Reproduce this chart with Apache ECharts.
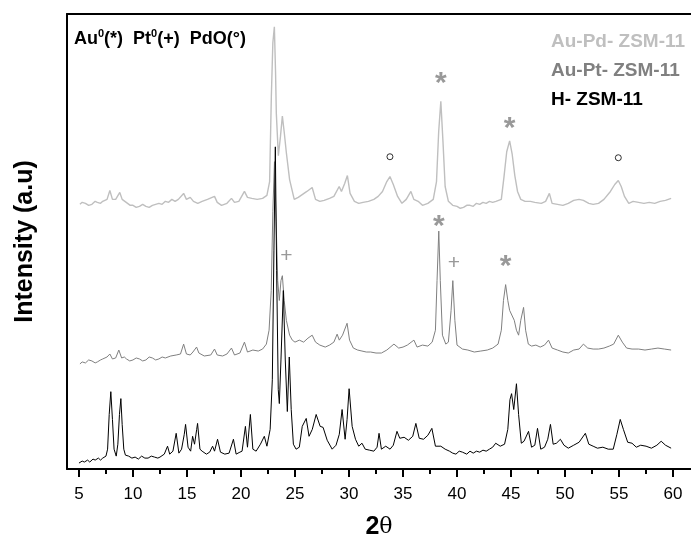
<!DOCTYPE html>
<html>
<head>
<meta charset="utf-8">
<script src="https://cdn.jsdelivr.net/npm/echarts@6/dist/echarts.min.js"></script>
<style>
html,body{margin:0;padding:0;background:#fff;}
#chart{width:691px;height:545px;}
</style>
</head>
<body>
<div id="chart"></div>
<script>
// ---- data (2θ, intensity in arbitrary units, offset traces) ----
var seriesNames = ['Au-Pd- ZSM-11', 'Au-Pt- ZSM-11', 'H- ZSM-11'];
var majorTicks = [5, 10, 15, 20, 25, 30, 35, 40, 45, 50, 55, 60];
var minorTicks = [7.5, 12.5, 17.5, 22.5, 27.5, 32.5, 37.5, 42.5, 47.5, 52.5, 57.5];

var hzsm = [[5.0,6],[5.3,8],[5.5,7],[5.8,9],[6.0,7],[6.3,10],[6.5,9],[6.8,11],[7.0,9],[7.2,11],[7.5,13],[7.65,20],[7.8,55],[7.95,78],[8.1,50],[8.25,20],[8.45,13],[8.6,25],[8.75,55],[8.88,71],[9.0,45],[9.15,20],[9.3,14],[9.6,13],[9.9,11],[10.2,12],[10.5,10],[10.8,13],[11.1,11],[11.4,11],[11.7,13],[12.0,12],[12.3,11],[12.5,12],[12.9,15],[13.2,23],[13.4,15],[13.7,18],[14.0,36],[14.25,16],[14.5,20],[14.75,35],[14.87,45],[15.1,22],[15.34,18],[15.52,33],[15.7,25],[15.9,40],[15.98,46],[16.2,20],[16.4,18],[16.8,15],[17.1,17],[17.37,23],[17.55,18],[17.83,30],[18.1,17],[18.5,15],[18.9,16],[19.3,30],[19.55,15],[19.9,17],[20.1,18],[20.41,43],[20.6,22],[20.87,55],[21.1,20],[21.4,18],[21.8,25],[22.16,33],[22.4,23],[22.7,40],[22.9,90],[23.05,220],[23.18,325],[23.3,200],[23.45,80],[23.55,66],[23.7,110],[23.92,180],[24.1,110],[24.29,58],[24.47,113],[24.65,60],[24.85,25],[25.1,20],[25.4,22],[25.67,43],[26.04,51],[26.3,33],[26.6,40],[26.96,55],[27.33,43],[27.6,42],[27.98,29],[28.44,20],[28.8,24],[29.1,35],[29.36,60],[29.64,30],[29.82,50],[30.01,81],[30.29,43],[30.6,30],[30.9,23],[31.2,26],[31.5,20],[31.9,19],[32.3,18],[32.6,22],[32.78,36],[33.0,20],[33.4,23],[33.8,20],[34.1,24],[34.44,38],[34.7,31],[35.1,32],[35.5,29],[35.9,33],[36.19,46],[36.5,31],[36.9,30],[37.3,34],[37.67,41],[38.0,23],[38.5,23],[38.9,20],[39.3,18],[39.6,16],[39.9,15],[40.2,18],[40.5,17],[40.9,15],[41.2,18],[41.5,16],[41.8,18],[42.1,17],[42.4,19],[42.7,18],[43.0,20],[43.3,22],[43.58,26],[44.0,23],[44.4,25],[44.7,40],[44.9,70],[45.05,76],[45.25,60],[45.5,86],[45.7,55],[45.95,26],[46.2,28],[46.62,38],[46.9,22],[47.2,24],[47.45,41],[47.75,20],[48.1,22],[48.4,30],[48.65,45],[48.9,25],[49.2,26],[49.57,30],[49.9,24],[50.3,21],[50.8,24],[51.3,27],[51.88,36],[52.2,25],[52.6,23],[53.0,21],[53.5,22],[54.0,20],[54.46,20],[54.8,35],[55.11,50],[55.4,40],[55.8,27],[56.2,26],[56.6,22],[57.0,24],[57.5,23],[58.0,21],[58.5,24],[58.9,28],[59.3,24],[59.82,21]];

var aupt = [[5.09,106],[5.3,108],[5.6,107],[5.9,110],[6.2,109],[6.5,107],[6.7,108],[7.0,110],[7.2,111],[7.6,113],[7.86,116],[8.1,111],[8.4,112],[8.69,120],[8.95,112],[9.2,113],[9.4,111],[9.7,109],[10.0,110],[10.3,112],[10.6,111],[10.9,109],[11.2,110],[11.5,113],[11.8,112],[12.1,110],[12.4,111],[12.7,113],[13.0,112],[13.5,114],[14.0,115],[14.4,116],[14.69,126],[14.95,116],[15.3,115],[15.55,118],[15.89,123],[16.1,117],[16.6,114],[17.2,115],[17.55,121],[17.8,115],[18.3,114],[18.7,116],[19.12,122],[19.4,115],[19.9,117],[20.32,128],[20.6,118],[21.1,120],[21.6,119],[22.0,121],[22.35,126],[22.6,140],[22.8,180],[22.95,260],[23.1,310],[23.25,250],[23.4,190],[23.55,170],[23.7,190],[23.83,195],[24.0,170],[24.2,150],[24.5,135],[24.75,130],[25.0,128],[25.4,130],[25.8,128],[26.2,132],[26.59,135],[26.9,128],[27.3,125],[27.8,123],[28.2,125],[28.6,128],[28.9,136],[29.1,130],[29.4,135],[29.82,147],[30.05,130],[30.4,122],[30.8,120],[31.2,119],[31.6,118],[32.0,118],[32.5,117],[33.0,117],[33.5,120],[34.16,126],[34.6,122],[35.0,123],[35.4,125],[36.01,130],[36.3,123],[36.8,125],[37.3,124],[37.7,128],[38.0,140],[38.15,190],[38.31,240],[38.45,190],[38.65,135],[38.96,126],[39.2,128],[39.45,160],[39.61,190],[39.8,150],[40.0,125],[40.5,121],[41.0,120],[41.6,118],[42.2,119],[42.8,120],[43.3,122],[43.8,126],[44.1,140],[44.3,170],[44.5,186],[44.7,170],[44.87,160],[45.05,158],[45.3,150],[45.5,140],[45.7,135],[45.9,150],[46.16,163],[46.35,140],[46.6,126],[46.9,124],[47.3,125],[47.7,123],[48.1,125],[48.47,130],[48.8,122],[49.3,120],[49.8,118],[50.3,117],[50.8,120],[51.3,121],[51.7,126],[52.1,122],[52.6,121],[53.1,121],[53.6,122],[54.1,124],[54.5,126],[54.93,135],[55.3,128],[55.7,122],[56.2,121],[56.8,121],[57.4,120],[58.0,121],[58.6,122],[59.2,121],[59.82,120]];

var aupd = [[5.09,267],[5.3,269],[5.6,268],[5.9,266],[6.2,267],[6.5,270],[6.7,269],[7.0,268],[7.2,270],[7.6,272],[7.86,281],[8.1,272],[8.4,272],[8.78,279],[9.0,272],[9.25,270],[9.5,268],[9.75,266],[10.0,266],[10.3,264],[10.6,265],[10.9,267],[11.2,265],[11.5,264],[11.8,266],[12.1,267],[12.4,268],[12.7,267],[13.0,270],[13.3,269],[13.6,272],[13.9,270],[14.2,272],[14.69,278],[14.95,272],[15.3,274],[15.6,270],[16.0,268],[16.4,270],[16.9,272],[17.55,275],[17.8,269],[18.2,266],[18.7,268],[19.12,273],[19.4,269],[19.8,270],[20.32,280],[20.6,274],[21.0,273],[21.5,272],[22.0,273],[22.4,276],[22.65,290],[22.81,376],[22.95,430],[23.09,446],[23.2,400],[23.27,359],[23.46,316],[23.65,335],[23.83,356],[24.0,340],[24.2,319],[24.5,292],[24.93,272],[25.3,274],[25.7,277],[26.1,280],[26.59,284],[26.9,272],[27.3,270],[27.7,271],[28.2,273],[28.6,275],[29.09,285],[29.3,280],[29.6,288],[29.85,296],[30.1,278],[30.5,270],[30.9,268],[31.3,269],[31.8,270],[32.3,272],[32.7,275],[33.1,280],[33.5,290],[33.79,295],[34.1,287],[34.5,275],[34.9,268],[35.3,272],[35.73,280],[36.0,272],[36.4,270],[36.8,266],[37.3,268],[37.8,272],[38.1,290],[38.3,340],[38.5,371],[38.7,330],[38.9,285],[39.2,270],[39.6,266],[40.0,265],[40.3,263],[40.6,264],[40.9,266],[41.2,266],[41.5,265],[41.8,268],[42.1,267],[42.4,269],[42.7,268],[43.0,270],[43.3,269],[43.6,270],[44.1,272],[44.35,295],[44.6,320],[44.87,331],[45.1,318],[45.35,296],[45.6,280],[45.9,272],[46.3,270],[46.8,270],[47.2,269],[47.8,268],[48.2,270],[48.55,278],[48.8,268],[49.3,267],[49.8,266],[50.3,268],[50.8,271],[51.3,272],[51.7,271],[52.2,268],[52.6,267],[53.1,268],[53.6,272],[54.2,280],[54.6,287],[54.93,291],[55.2,285],[55.5,275],[55.9,268],[56.3,270],[56.8,269],[57.3,268],[57.8,269],[58.3,268],[58.8,270],[59.3,271],[59.82,273]];

// peak markers: Au0 (*), Pt0 (+), PdO (°)
var starMarks = [[38.5, 397], [44.87, 351], [38.31, 252], [44.5, 212]];
var plusMarks = [[24.2, 215], [39.7, 208]];
var circleMarks = [[33.79, 315], [54.93, 314]];

var colors = ['#bfbfbf', '#808080', '#000000'];
var FONT = 'Liberation Sans, Arial, sans-serif';

var chart = echarts.init(document.getElementById('chart'), null, {renderer: 'canvas'});
var option = {
  animation: false,
  backgroundColor: '#ffffff',
  grid: {left: 67, right: -2, top: 14, bottom: 72, containLabel: false},
  legend: {
    orient: 'vertical',
    left: 546, top: 27,
    itemWidth: 0, itemHeight: 0, itemGap: 10,
    icon: 'rect',
    selectedMode: false,
    textStyle: {fontFamily: FONT, fontSize: 19, fontWeight: 'bold', padding: [0,0,0,-5]},
    data: [
      {name: seriesNames[0], textStyle: {color: colors[0]}},
      {name: seriesNames[1], textStyle: {color: colors[1]}},
      {name: seriesNames[2], textStyle: {color: colors[2]}}
    ]
  },
  xAxis: [{
    type: 'value', min: 3.893, max: 61.66, position: 'bottom',
    name: '{a|2}{b|θ}', nameLocation: 'middle', nameGap: 46,
    nameTextStyle: {rich: {
      a: {fontFamily: FONT, fontWeight: 'bold', fontSize: 25, color: '#000'},
      b: {fontFamily: 'DejaVu Serif, Liberation Serif, serif', fontSize: 22, color: '#000'}
    }},
    axisLine: {show: true, onZero: false, lineStyle: {color: '#000', width: 2}},
    axisTick: {show: true, inside: false, length: 8, customValues: majorTicks, lineStyle: {color: '#000', width: 2}},
    axisLabel: {show: true, margin: 17, customValues: majorTicks, fontFamily: FONT, fontSize: 17, color: '#000'},
    splitLine: {show: false}
  }, {
    type: 'value', min: 3.893, max: 61.66, position: 'bottom',
    axisLine: {show: false, onZero: false},
    axisTick: {show: true, length: 5, customValues: minorTicks, lineStyle: {color: '#000', width: 2}},
    axisLabel: {show: false},
    splitLine: {show: false}
  }, {
    type: 'value', min: 3.893, max: 61.66, position: 'top',
    axisLine: {show: true, onZero: false, lineStyle: {color: '#000', width: 2}},
    axisTick: {show: false}, axisLabel: {show: false}, splitLine: {show: false}
  }],
  yAxis: {
    type: 'value', min: 0, max: 459,
    name: 'Intensity (a.u)', nameLocation: 'middle', nameGap: 29,
    nameTextStyle: {fontFamily: FONT, fontWeight: 'bold', fontSize: 25, color: '#000'},
    axisLine: {show: true, onZero: false, lineStyle: {color: '#000', width: 2}},
    axisTick: {show: false}, axisLabel: {show: false}, splitLine: {show: false}
  },
  graphic: [{
    type: 'text', left: 74, top: 28,
    style: {
      text: 'Au{s|0}(*)  Pt{s|0}(+)  PdO(°)',
      fontFamily: FONT, fontSize: 18, fontWeight: 'bold', fill: '#000',
      rich: {s: {fontFamily: FONT, fontSize: 11, fontWeight: 'bold', verticalAlign: 'top', lineHeight: 22}}
    }
  }],
  series: [
    {name: seriesNames[2], type: 'line', data: hzsm, showSymbol: false, symbol: 'none', z: 3,
     lineStyle: {color: colors[2], width: 1}, itemStyle: {color: colors[2]}},
    {name: seriesNames[1], type: 'line', data: aupt, showSymbol: false, symbol: 'none', z: 2,
     lineStyle: {color: colors[1], width: 1}, itemStyle: {color: colors[1]}},
    {name: seriesNames[0], type: 'line', data: aupd, showSymbol: false, symbol: 'none', z: 1,
     lineStyle: {color: colors[0], width: 1.4}, itemStyle: {color: colors[0]}},
    {name: 'Au0', type: 'scatter', data: starMarks, symbolSize: 1, itemStyle: {color: 'rgba(0,0,0,0)'}, z: 5,
     label: {show: true, position: 'inside', formatter: '*', offset: [0, 8], fontFamily: FONT, fontSize: 30, fontWeight: 'bold', color: '#808080'}},
    {name: 'Pt0', type: 'scatter', data: plusMarks, symbolSize: 1, itemStyle: {color: 'rgba(0,0,0,0)'}, z: 5,
     label: {show: true, position: 'inside', formatter: '+', offset: [0, 0], fontFamily: FONT, fontSize: 21, color: '#808080'}},
    {name: 'PdO', type: 'scatter', data: circleMarks, symbol: 'circle', symbolSize: 6, z: 5,
     itemStyle: {color: '#ffffff', borderColor: '#000', borderWidth: 1}}
  ]
};
chart.setOption(option);
</script>
</body>
</html>
